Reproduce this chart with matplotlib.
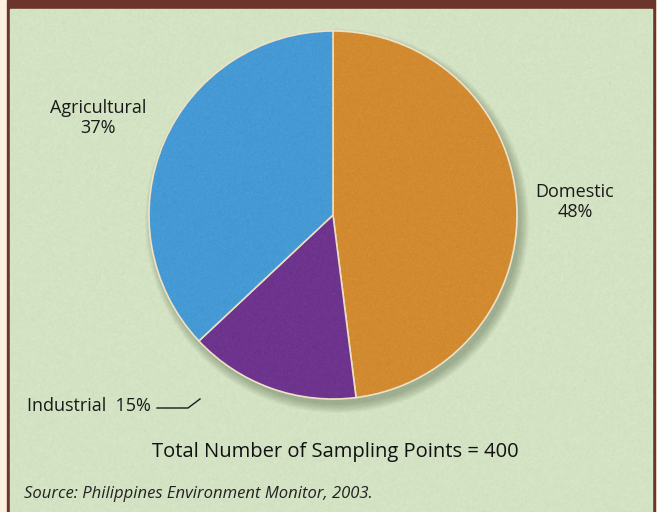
import numpy as np
import matplotlib
matplotlib.use("Agg")
import matplotlib.pyplot as plt
from matplotlib.patches import Rectangle, Circle

# sampling points by source
labels = ["Domestic", "Industrial", "Agricultural"]
shares = [48, 15, 37]
colors = ["#da8a26", "#6a2a8e", "#3e9bdc"]
title = "Total Number of Sampling Points = 400"
source = "Source: Philippines Environment Monitor, 2003."

W, H = 657, 512
plt.rcParams['font.family'] = ['Open Sans', 'DejaVu Sans']

fig = plt.figure(figsize=(W / 100, H / 100), dpi=100)
ax = fig.add_axes([0, 0, 1, 1])
ax.set_xlim(0, W)
ax.set_ylim(0, H)
ax.set_aspect('equal')
ax.axis('off')

# frame: cream margin, brown border and header bar, green panel
ax.add_patch(Rectangle((0, 0), W, H, color="#fcf1df", zorder=0))
ax.add_patch(Rectangle((7, 0), 648, H, color="#6b352c", zorder=0))
ax.add_patch(Rectangle((10, 0), 642, H - 9, color="#d7e8c6", zorder=0))

# light canvas texture on the panel
rng = np.random.default_rng(3)
tex = rng.normal(0, 1, (H, W))
tex = (tex + np.roll(tex, 1, axis=0) + np.roll(tex, 1, axis=1)) / 3
ax.imshow(tex, cmap='Greys', extent=(10, 652, 0, H - 9), alpha=0.06,
          zorder=0.5, interpolation='bilinear')

cx, cy, r = 333, 297, 184

# soft shadow under the pie
for i in range(12):
    ax.add_patch(Circle((cx + 4, cy - 6), r + 8 - i * 0.8, color="#4a5a40",
                        alpha=0.035, lw=0, zorder=1))

wedges, _ = ax.pie(shares, colors=colors, startangle=90, counterclock=False,
                   center=(cx, cy), radius=r, frame=True,
                   wedgeprops=dict(edgecolor="#f4e6c8", linewidth=1.2))
for w in wedges:
    w.set_zorder(2)
ax.set_xlim(0, W)
ax.set_ylim(0, H)
ax.axis('off')

# grain on the wedges
grain = rng.normal(0, 1, (400, 400))
im = ax.imshow(grain, cmap='Greys', extent=(cx - r, cx + r, cy - r, cy + r),
               alpha=0.10, zorder=3, interpolation='bilinear')
im.set_clip_path(Circle((cx, cy), r, transform=ax.transData))

lab_fs = 13
ax.text(98, H - 118, f"{labels[2]}\n{shares[2]}%", ha='center', va='center',
        fontsize=lab_fs, color="#1a1a1a", linespacing=1.15, zorder=5)
ax.text(575, H - 202, f"{labels[0]}\n{shares[0]}%", ha='center', va='center',
        fontsize=lab_fs, color="#1a1a1a", linespacing=1.15, zorder=5)
ax.text(151, H - 406, f"{labels[1]}  {shares[1]}%", ha='right', va='center',
        fontsize=lab_fs, color="#1a1a1a", zorder=5)
ax.plot([157, 188, 200], [H - 408, H - 408, H - 399], color="#1a1a1a",
        lw=1, zorder=5)

ax.text(335, H - 452, title, ha='center', va='center', fontsize=14.5,
        color="#111111", zorder=5)
ax.text(24, H - 494, source, ha='left', va='center', fontsize=12,
        style='italic', color="#222222", zorder=5)

fig.savefig("out.png", dpi=100)
